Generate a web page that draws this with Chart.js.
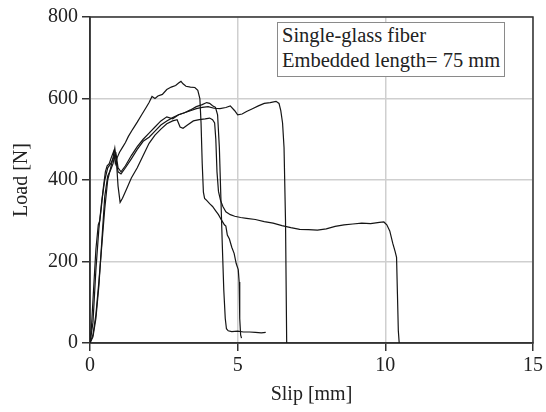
<!DOCTYPE html>
<html lang="en">
<head>
  <meta charset="UTF-8">
  <title>Load vs slip</title>
  <script src="https://cdn.jsdelivr.net/npm/chart.js"></script>
  <style>
    body { margin: 0; background: #fff; }
    .wrap { position: relative; width: 546px; height: 412px; }
    .nota {
      position: absolute; left: 277px; top: 22px; width: 222px; height: 53px;
      border: 1px solid #8a8a8a; background: #fff; padding: 0 0 0 4px;
      font-family: "Liberation Serif", serif; font-size: 20.5px; line-height: 25px; color: #222;
    }
  </style>
</head>
<body>
  <div class="wrap">
    <canvas id="grafico" width="546" height="412"></canvas>
    <div class="nota">Single-glass fiber<br>Embedded length= 75 mm</div>
  </div>
  <script>
    // ensaio 1 - pico ~640 N, cai em ~3.8 mm
    const slip1 = [0, 0.05, 0.12, 0.2, 0.28, 0.33, 0.38, 0.45, 0.52, 0.58, 0.65, 0.72, 0.8, 0.86, 0.92, 1.0, 1.1, 1.2, 1.3, 1.45, 1.6, 1.75, 1.9, 2.0, 2.1, 2.2, 2.3, 2.45, 2.6, 2.75, 2.9, 3.0, 3.08, 3.15, 3.25, 3.4, 3.55, 3.65, 3.72, 3.76, 3.8, 3.84, 3.88, 3.95, 4.05, 4.15, 4.25, 4.35, 4.45, 4.55, 4.6, 4.65, 4.72, 4.8, 4.88, 4.95, 5.02, 5.05, 5.07, 5.1, 5.13];
    const load1 = [0, 40, 130, 230, 290, 300, 330, 380, 420, 435, 440, 455, 470, 440, 455, 468, 480, 492, 507, 525, 542, 560, 578, 590, 605, 600, 606, 610, 622, 628, 632, 638, 642, 636, 630, 628, 627, 620, 600, 540, 440, 370, 355, 350, 342, 335, 325, 315, 302, 290, 287, 265, 255, 235, 220, 195, 180, 150, 60, 20, 12];

    // ensaio 2 - patamar ~550 N, cauda longa ate ~10.5 mm
    const slip2 = [0, 0.1, 0.2, 0.3, 0.4, 0.5, 0.6, 0.7, 0.78, 0.84, 0.9, 0.95, 1.02, 1.1, 1.25, 1.4, 1.6, 1.8, 2.0, 2.2, 2.4, 2.6, 2.8, 2.95, 3.05, 3.15, 3.3, 3.5, 3.7, 3.9, 4.05, 4.15, 4.22, 4.26, 4.3, 4.35, 4.42, 4.5, 4.6, 4.75, 4.9, 5.1, 5.3, 5.6, 5.9, 6.2, 6.5, 6.8, 7.1, 7.4, 7.7, 8.0, 8.3, 8.6, 8.9, 9.2, 9.5, 9.8, 9.95, 10.05, 10.15, 10.25, 10.33, 10.38, 10.41, 10.44, 10.47];
    const load2 = [0, 20, 70, 150, 240, 330, 400, 430, 455, 478, 440, 385, 345, 355, 380, 405, 430, 460, 490, 510, 525, 538, 545, 548, 530, 527, 535, 545, 548, 550, 552, 548, 540, 500, 420, 372, 350, 335, 322, 315, 311, 308, 306, 303, 298, 294, 288, 283, 279, 278, 277, 280, 286, 290, 292, 294, 293, 296, 297, 290, 275, 245, 225, 210, 120, 30, 0];

    // ensaio 3 - ~585 N, cai para ~25 N
    const slip3 = [0, 0.1, 0.2, 0.3, 0.4, 0.5, 0.6, 0.7, 0.8, 0.88, 0.95, 1.05, 1.2, 1.4, 1.6, 1.8, 2.0, 2.2, 2.4, 2.6, 2.8, 3.0, 3.2, 3.4, 3.6, 3.8, 3.95, 4.05, 4.15, 4.25, 4.32, 4.38, 4.43, 4.48, 4.53, 4.58, 4.62, 4.68, 4.8, 5.0, 5.2, 5.4, 5.6, 5.8, 5.95];
    const load3 = [0, 50, 180, 280, 350, 400, 430, 440, 455, 465, 430, 420, 435, 460, 482, 500, 515, 530, 545, 555, 550, 560, 565, 572, 580, 585, 590, 588, 582, 578, 560, 480, 360, 240, 130, 60, 35, 30, 28, 29, 27, 27, 26, 25, 26];

    // ensaio 4 - patamar ate ~6.6 mm
    const slip4 = [0, 0.1, 0.2, 0.3, 0.4, 0.5, 0.6, 0.7, 0.78, 0.85, 0.95, 1.05, 1.2, 1.4, 1.6, 1.8, 2.0, 2.2, 2.4, 2.6, 2.8, 3.0, 3.2, 3.4, 3.6, 3.8, 4.0, 4.2, 4.4, 4.6, 4.75, 4.9, 5.0, 5.15, 5.3, 5.5, 5.7, 5.9, 6.1, 6.3, 6.4, 6.46, 6.52, 6.57, 6.62, 6.66];
    const load4 = [0, 15, 60, 140, 250, 360, 410, 425, 440, 465, 420, 415, 430, 452, 475, 495, 505, 520, 535, 545, 553, 560, 565, 570, 575, 578, 580, 576, 575, 578, 582, 570, 560, 562, 568, 575, 582, 588, 590, 593, 588, 570, 540, 480, 300, 0];

    const xTicks = [0, 5, 10, 15];
    const yTicks = [0, 200, 400, 600, 800];

    const fonte = { family: '"Liberation Serif", serif', size: 20 };

    function montarSerie(xs, ys) {
      return {
        data: xs.map((x, i) => ({ x: x, y: ys[i] })),
        borderColor: '#151515',
        borderWidth: 1.2,
        pointRadius: 0,
        tension: 0,
        showLine: true,
        fill: false
      };
    }

    // moldura completa em volta da area do grafico
    const moldura = {
      id: 'moldura',
      beforeDatasetsDraw(chart) {
        const a = chart.chartArea;
        const ctx = chart.ctx;
        ctx.save();
        ctx.strokeStyle = '#333';
        ctx.lineWidth = 1.5;
        ctx.strokeRect(a.left, a.top, a.right - a.left, a.bottom - a.top);
        ctx.restore();
      }
    };

    new Chart(document.getElementById('grafico').getContext('2d'), {
      type: 'scatter',
      data: {
        datasets: [
          montarSerie(slip1, load1),
          montarSerie(slip2, load2),
          montarSerie(slip3, load3),
          montarSerie(slip4, load4)
        ]
      },
      plugins: [moldura],
      options: {
        responsive: false,
        animation: false,
        layout: { padding: { top: 17, right: 10, left: 0, bottom: 0 } },
        plugins: { legend: { display: false }, tooltip: { enabled: false } },
        scales: {
          x: {
            type: 'linear', min: 0, max: 15,
            afterBuildTicks: (s) => { s.ticks = xTicks.map(v => ({ value: v })); },
            afterFit: (s) => { s.height = 69; },
            ticks: { color: '#222', font: fonte, padding: 3 },
            grid: { color: '#cfcfcf', lineWidth: 1.5, tickColor: '#333', tickLength: 8, tickWidth: 1.5 },
            border: { color: '#333', width: 1.5 },
            title: { display: true, text: 'Slip [mm]', color: '#222', font: fonte, padding: { top: 0, bottom: 5 } }
          },
          y: {
            type: 'linear', min: 0, max: 800,
            afterBuildTicks: (s) => { s.ticks = yTicks.map(v => ({ value: v })); },
            afterFit: (s) => { s.width = 90; },
            ticks: { color: '#222', font: fonte, padding: 4 },
            grid: { color: '#cfcfcf', lineWidth: 1.5, tickColor: '#333', tickLength: 8, tickWidth: 1.5 },
            border: { color: '#333', width: 1.5 },
            title: { display: true, text: 'Load [N]', color: '#222', font: fonte, padding: { top: 10, bottom: 0 } }
          }
        }
      }
    });
  </script>
</body>
</html>
